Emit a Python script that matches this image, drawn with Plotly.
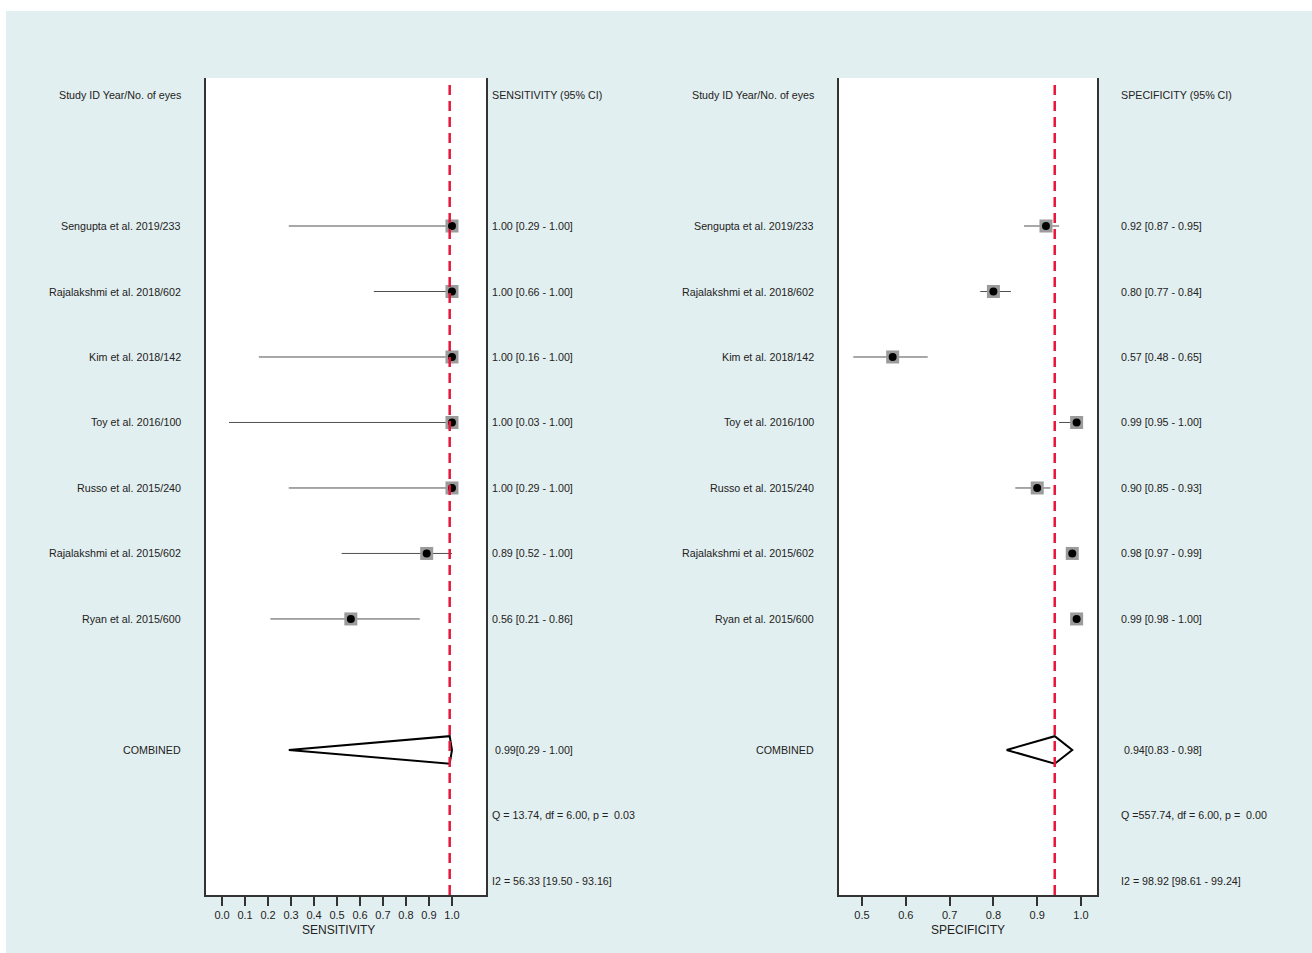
import plotly.graph_objects as go

studies = ["Sengupta et al. 2019/233", "Rajalakshmi et al. 2018/602", "Kim et al. 2018/142",
           "Toy et al. 2016/100", "Russo et al. 2015/240", "Rajalakshmi et al. 2015/602",
           "Ryan et al. 2015/600"]
sens = [1.00, 1.00, 1.00, 1.00, 1.00, 0.89, 0.56]
sens_lo = [0.29, 0.66, 0.16, 0.03, 0.29, 0.52, 0.21]
sens_hi = [1.00, 1.00, 1.00, 1.00, 1.00, 1.00, 0.86]
spec = [0.92, 0.80, 0.57, 0.99, 0.90, 0.98, 0.99]
spec_lo = [0.87, 0.77, 0.48, 0.95, 0.85, 0.97, 0.98]
spec_hi = [0.95, 0.84, 0.65, 1.00, 0.93, 0.99, 1.00]
comb_sens = [0.99, 0.29, 1.00]
comb_spec = [0.94, 0.83, 0.98]
sens_stats = ["Q = 13.74, df = 6.00, p =  0.03", "I2 = 56.33 [19.50 - 93.16]"]
spec_stats = ["Q =557.74, df = 6.00, p =  0.00", "I2 = 98.92 [98.61 - 99.24]"]
sens_ticks = [0.0, 0.1, 0.2, 0.3, 0.4, 0.5, 0.6, 0.7, 0.8, 0.9, 1.0]
spec_ticks = [0.5, 0.6, 0.7, 0.8, 0.9, 1.0]

W, H = 1312, 953
BG = "#e2eff0"
FONT = "Liberation Sans, Arial, sans-serif"
TXT = "#222222"
RED = "#e5173c"

rows = list(range(len(studies)))
comb_row = 8
stat_rows = [9, 10]
header_row = -2

fig = go.Figure()


def add_panel(xa, ya, est, lo, hi, comb):
    xs, ys = [], []
    for i in rows:
        xs += [lo[i], hi[i], None]
        ys += [i, i, None]
    fig.add_trace(go.Scatter(x=xs, y=ys, mode="lines", line=dict(color="#505050", width=1),
                             xaxis=xa, yaxis=ya, hoverinfo="skip"))
    fig.add_trace(go.Scatter(x=est, y=rows, mode="markers",
                             marker=dict(symbol="square", size=13, color="#9b9b9b"),
                             xaxis=xa, yaxis=ya, hoverinfo="skip"))
    fig.add_trace(go.Scatter(x=est, y=rows, mode="markers",
                             marker=dict(symbol="circle", size=8, color="black"),
                             xaxis=xa, yaxis=ya))
    e, l, h = comb
    hh = 0.21
    fig.add_trace(go.Scatter(x=[l, e, h, e, l], y=[comb_row, comb_row - hh, comb_row, comb_row + hh, comb_row],
                             mode="lines", line=dict(color="black", width=2),
                             xaxis=xa, yaxis=ya, hoverinfo="skip"))
    fig.add_shape(type="line", xref=xa, yref=ya + " domain", x0=e, x1=e, y0=0, y1=0.997,
                  line=dict(color=RED, width=2.5, dash="10px,6px"))


add_panel("x", "y", sens, sens_lo, sens_hi, comb_sens)
add_panel("x2", "y2", spec, spec_lo, spec_hi, comb_spec)

yr = [10.215, -2.26]
ydom = [1 - 895 / H, 1 - 78 / H]
axis_common = dict(showgrid=False, zeroline=False, showline=True, linecolor="#333333", linewidth=1.5,
                   ticks="outside", ticklen=9, tickcolor="#333333", tickwidth=1.5,
                   tickfont=dict(family=FONT, size=11, color=TXT))
fig.update_layout(
    width=W, height=H, margin=dict(l=0, r=0, t=0, b=0),
    paper_bgcolor=BG, plot_bgcolor="white", showlegend=False,
    xaxis=dict(domain=[206 / W, 486 / W], range=[-0.07, 1.148], tickvals=sens_ticks,
               ticktext=[f"{t:.1f}" for t in sens_ticks], anchor="y", **axis_common),
    xaxis2=dict(domain=[839 / W, 1097 / W], range=[0.4475, 1.0365], tickvals=spec_ticks,
                ticktext=[f"{t:.1f}" for t in spec_ticks], anchor="y2", **axis_common),
    yaxis=dict(domain=ydom, range=yr, showgrid=False, zeroline=False, showticklabels=False,
               showline=True, mirror=True, linecolor="#333333", linewidth=1.5, anchor="x"),
    yaxis2=dict(domain=ydom, range=yr, showgrid=False, zeroline=False, showticklabels=False,
                showline=True, mirror=True, linecolor="#333333", linewidth=1.5, anchor="x2"),
)

# white strips around the light panel
fig.add_shape(type="rect", xref="paper", yref="paper", x0=0, x1=1, y0=1 - 11 / H, y1=1,
              fillcolor="white", line=dict(width=0))
fig.add_shape(type="rect", xref="paper", yref="paper", x0=0, x1=6 / W, y0=0, y1=1,
              fillcolor="white", line=dict(width=0))

ann = []
FS = 10.7


def txt(xpx, yrow, text, anchor, ya="y", size=FS):
    # compensate the annotation's inner padding
    xpx = xpx + 2 if anchor == "right" else xpx - 2
    ann.append(dict(x=xpx / W, xref="paper", y=yrow, yref=ya, text=text, showarrow=False,
                    xanchor=anchor, yanchor="middle", font=dict(family=FONT, size=size, color=TXT)))


# headers
txt(181, header_row, "Study ID Year/No. of eyes", "right")
txt(492, header_row, "SENSITIVITY (95% CI)", "left")
txt(814, header_row, "Study ID Year/No. of eyes", "right")
txt(1121, header_row, "SPECIFICITY (95% CI)", "left")

for i in rows:
    txt(181, i, studies[i], "right")
    txt(814, i, studies[i], "right")
    txt(492, i, f"{sens[i]:.2f} [{sens_lo[i]:.2f} - {sens_hi[i]:.2f}]", "left")
    txt(1121, i, f"{spec[i]:.2f} [{spec_lo[i]:.2f} - {spec_hi[i]:.2f}]", "left")

txt(181, comb_row, "COMBINED", "right")
txt(814, comb_row, "COMBINED", "right")
txt(495, comb_row, f"{comb_sens[0]:.2f}[{comb_sens[1]:.2f} - {comb_sens[2]:.2f}]", "left")
txt(1124, comb_row, f"{comb_spec[0]:.2f}[{comb_spec[1]:.2f} - {comb_spec[2]:.2f}]", "left")
for r, s1, s2 in zip(stat_rows, sens_stats, spec_stats):
    txt(492, r, s1, "left")
    txt(1121, r, s2, "left")

ann.append(dict(x=338 / W, xref="paper", y=1 - 930 / H, yref="paper", text="SENSITIVITY", showarrow=False,
                xanchor="center", yanchor="middle", font=dict(family=FONT, size=12, color=TXT)))
ann.append(dict(x=968 / W, xref="paper", y=1 - 930 / H, yref="paper", text="SPECIFICITY", showarrow=False,
                xanchor="center", yanchor="middle", font=dict(family=FONT, size=12, color=TXT)))
fig.update_layout(annotations=ann)

fig.write_html("out.html")
